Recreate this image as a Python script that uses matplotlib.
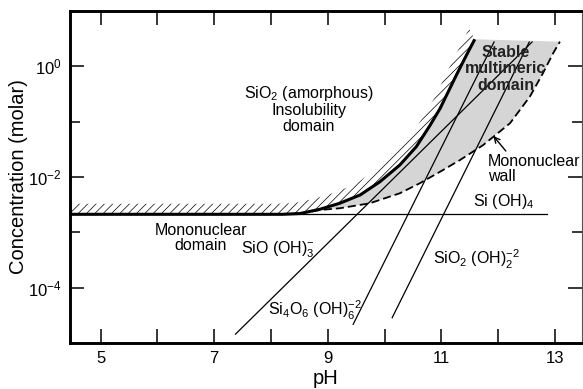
import numpy as np
import matplotlib
matplotlib.use('Agg')
import matplotlib.pyplot as plt
from matplotlib.ticker import FixedLocator, FixedFormatter, NullFormatter

plt.rcParams['font.family'] = ['Liberation Sans', 'DejaVu Sans']
plt.rcParams['mathtext.fontset'] = 'custom'
plt.rcParams['mathtext.rm'] = 'Liberation Sans'
plt.rcParams['mathtext.it'] = 'Liberation Sans:italic'
plt.rcParams['mathtext.bf'] = 'Liberation Sans:bold'
plt.rcParams['mathtext.default'] = 'regular'
plt.rcParams['hatch.linewidth'] = 0.5

# ---------------- data ----------------
# amorphous silica solubility curve (pH, log10 molar)
amorph_ph = [4.46, 8.20, 8.51, 8.86, 9.21, 9.57, 9.92, 10.27, 10.56, 10.80,
             10.98, 11.27, 11.45, 11.59]
amorph_log = [-2.674, -2.674, -2.66, -2.584, -2.475, -2.325, -2.085, -1.783,
              -1.452, -1.07, -0.76, -0.15, 0.215, 0.489]

# mononuclear wall (dashed)
wall_ph = [8.51, 8.86, 9.21, 9.74, 10.27, 10.62, 10.98, 11.33, 11.74, 12.21,
           12.56, 12.79, 12.97, 13.09]
wall_log = [-2.66, -2.596, -2.565, -2.475, -2.294, -2.114, -1.904, -1.693,
            -1.421, -1.029, -0.548, -0.126, 0.236, 0.446]

# Si(OH)4 level
sioh4_ph = [4.46, 12.87]
sioh4_log = [-2.674, -2.674]

# straight species lines: [start pH, end pH], [start log, end log]
sio_oh3_ph = [7.375, 12.60]
sio_oh3_log = [-4.84, 0.44]
si4o6_ph = [9.448, 11.93]
si4o6_log = [-4.662, 0.44]
sio2_oh2_ph = [10.135, 12.55]
sio2_oh2_log = [-4.543, 0.44]

xticks_major = [5, 6, 7, 8, 9, 10, 11, 12, 13]
xtick_labels = ['5', '', '7', '', '9', '', '11', '', '13']
yticks_major = [1e-4, 1e-2, 1e0]
ytick_labels = [r'$10^{-4}$', r'$10^{-2}$', r'$10^{0}$']
yticks_minor = [1e-3, 1e-1]

# ---------------- figure ----------------
fig = plt.figure(figsize=(5.83, 3.89), dpi=100)
ax = fig.add_axes([70 / 583, 1 - 343 / 389, (581.5 - 70) / 583, (343 - 11) / 389])
ax.set_yscale('log')
ax.set_xlim(4.46, 13.47)
ax.set_ylim(1e-5, 1e1)

amorph_c = 10 ** np.array(amorph_log)
wall_c = 10 ** np.array(wall_log)
aph = np.array(amorph_ph)
alog = np.array(amorph_log)

# gray stable multimeric region
start = 2
poly_x = list(aph[start:]) + list(np.array(wall_ph)[::-1])
poly_y = list(amorph_c[start:]) + list(wall_c[::-1])
ax.fill(poly_x, poly_y, facecolor='#d5d5d5', edgecolor='none', zorder=1)

# hatch band on insolubility side
dx, dy = 0.10, 0.19
band_x = list(aph) + list((aph - dx)[::-1])
band_y = list(amorph_c) + list((10 ** (alog + dy))[::-1])
ax.fill(band_x, band_y, facecolor='none', edgecolor='black', hatch='////',
        linewidth=0, zorder=2)

# lines
ax.plot(sioh4_ph, 10 ** np.array(sioh4_log), color='black', lw=0.9, zorder=3)
for px, pl in [(sio_oh3_ph, sio_oh3_log), (si4o6_ph, si4o6_log),
               (sio2_oh2_ph, sio2_oh2_log)]:
    ax.plot(px, 10 ** np.array(pl), color='black', lw=0.9, zorder=3)
ax.plot(wall_ph, wall_c, color='black', lw=1.3, ls=(0, (4.5, 2.2)), zorder=3)
ax.plot(amorph_ph, amorph_c, color='black', lw=2.2, zorder=4,
        solid_capstyle='butt', solid_joinstyle='round')

# texts
fs = 11.5
ax.text(8.67, 10 ** -0.77, 'SiO$_2$ (amorphous)\nInsolubility\ndomain',
        ha='center', va='center', multialignment='center', fontsize=fs,
        linespacing=1.05, zorder=5)
ax.text(12.14, 10 ** -0.048, 'Stable\nmultimeric\ndomain', ha='center',
        va='center', multialignment='center', fontsize=fs, fontweight='bold',
        color='#222222', linespacing=1.15, zorder=5)
ax.text(11.826, 10 ** -1.855, 'Mononuclear\nwall', ha='left', va='center',
        fontsize=fs, linespacing=1.0, zorder=5)
ax.text(11.55, 10 ** -2.524, 'Si (OH)$_4$', ha='left', va='baseline',
        fontsize=fs, zorder=5)
ax.text(6.766, 10 ** -3.10, 'Mononuclear\ndomain', ha='center', va='center',
        multialignment='center', fontsize=fs, linespacing=1.0, zorder=5)
ax.text(7.465, 10 ** -3.391, 'SiO (OH)$_3^{-}$', ha='left', va='baseline',
        fontsize=fs, zorder=5)
ax.text(7.951, 10 ** -4.512, 'Si$_4$O$_6$ (OH)$_6^{-2}$', ha='left',
        va='baseline', fontsize=fs, zorder=5)
ax.text(10.857, 10 ** -3.59, 'SiO$_2$ (OH)$_2^{-2}$', ha='left',
        va='baseline', fontsize=fs, zorder=5)

ax.annotate('', xy=(11.917, 10 ** -1.259), xytext=(12.137, 10 ** -1.53),
            arrowprops=dict(arrowstyle='->', color='black', lw=1.0,
                            mutation_scale=10, shrinkA=0, shrinkB=0),
            zorder=5)

# axes styling
ax.xaxis.set_major_locator(FixedLocator(xticks_major))
ax.xaxis.set_major_formatter(FixedFormatter(xtick_labels))
ax.yaxis.set_major_locator(FixedLocator(yticks_major))
ax.yaxis.set_major_formatter(FixedFormatter(ytick_labels))
ax.yaxis.set_minor_locator(FixedLocator(yticks_minor))
ax.yaxis.set_minor_formatter(NullFormatter())
ax.xaxis.set_minor_locator(FixedLocator([]))

ax.tick_params(axis='both', which='major', direction='in', length=10,
               width=1.1, labelsize=12, top=True, right=True, pad=6)
ax.tick_params(axis='y', which='minor', direction='in', length=7.5,
               width=1.1, right=True)

for s in ['left', 'bottom', 'top']:
    ax.spines[s].set_linewidth(2.1)
ax.spines['right'].set_linewidth(0.8)
ax.spines['right'].set_color('#555555')

ax.set_xlabel('pH', fontsize=14.5, labelpad=2)
ax.set_ylabel('Concentration (molar)', fontsize=14.5)
ax.yaxis.set_label_coords(-0.082, 0.5)

fig.savefig('out.png', dpi=100)
